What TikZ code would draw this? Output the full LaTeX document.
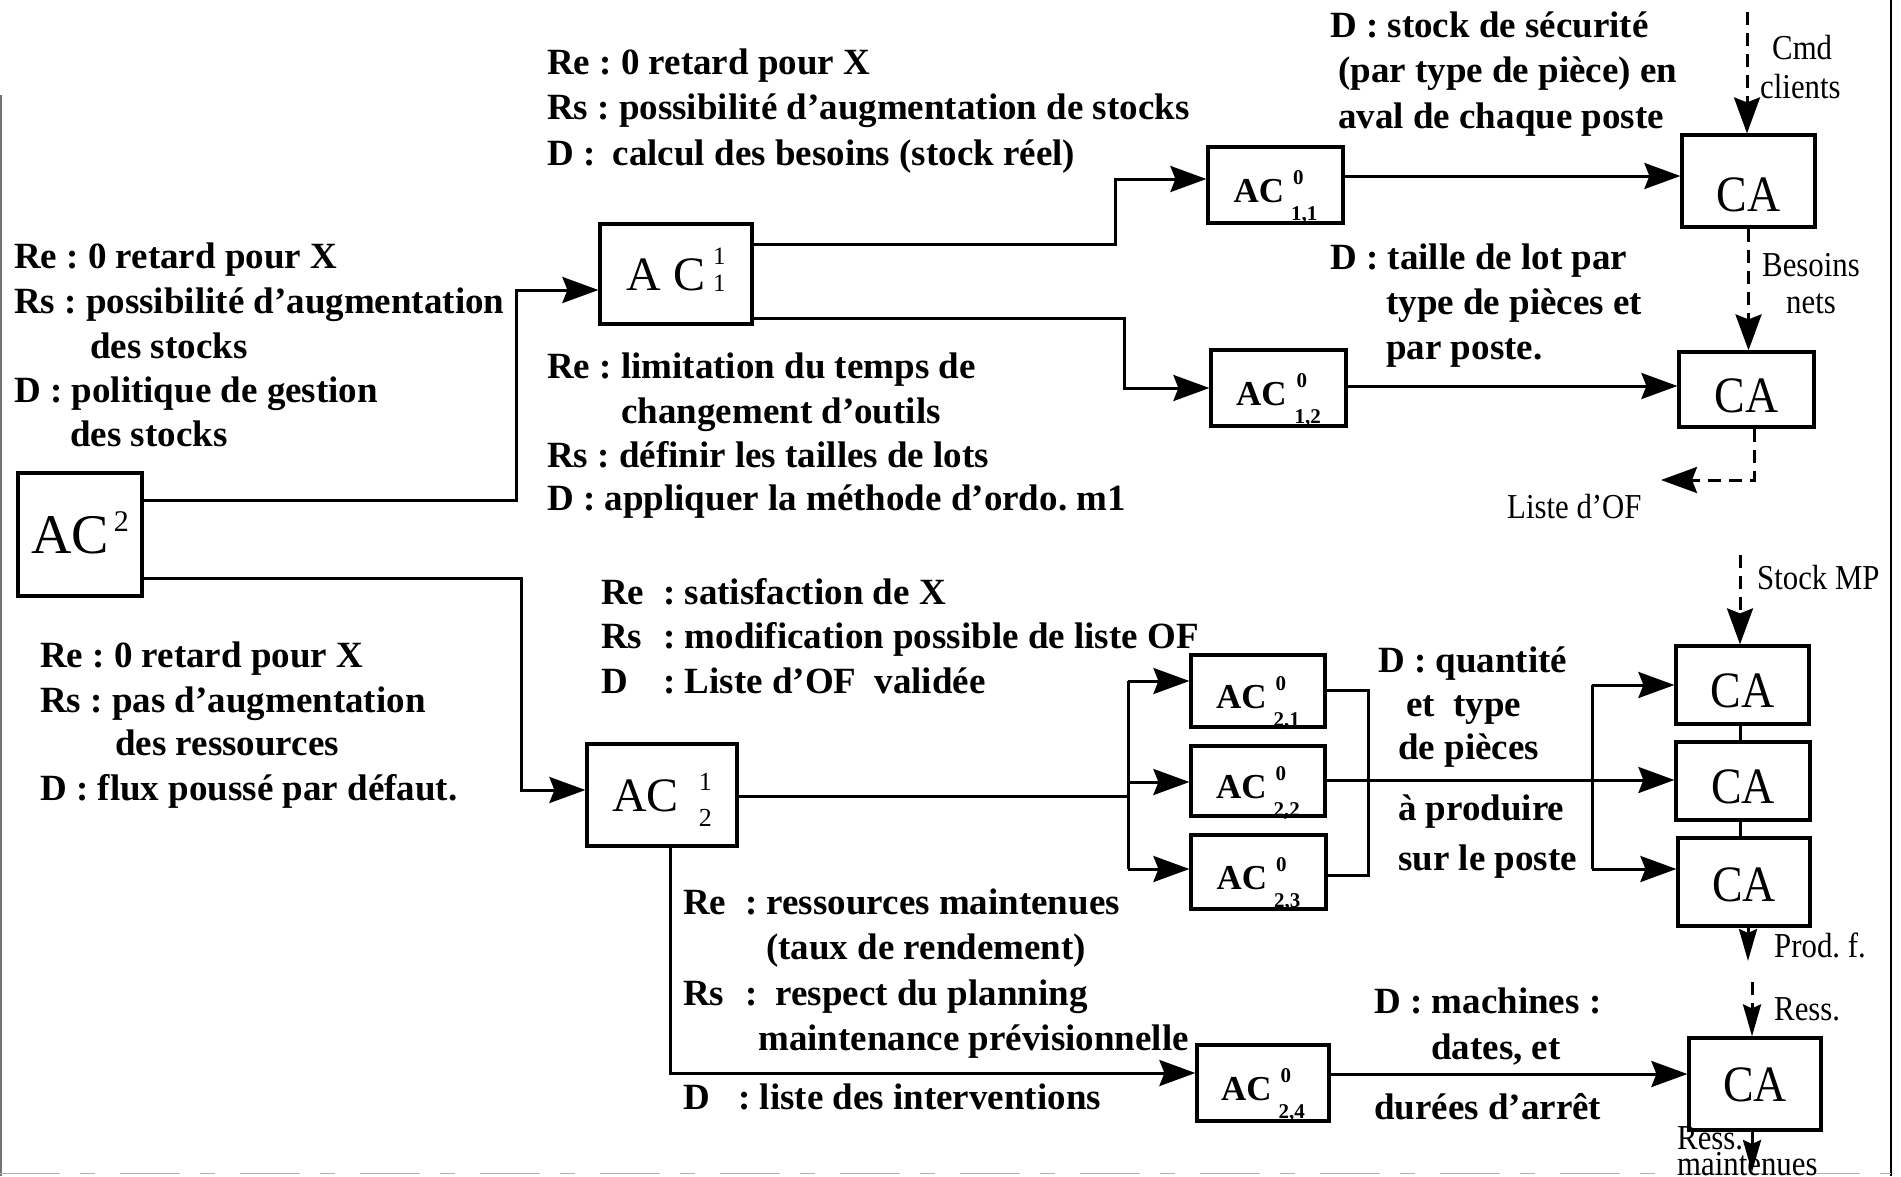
\documentclass[tikz,border=0pt]{standalone}
\usepackage{fontspec}
\setmainfont{Liberation Serif}
\usetikzlibrary{arrows.meta}
\frenchspacing
\newcommand\nar[1]{\scalebox{0.88}[1]{#1}}
\newcommand\aczero[1]{AC\hspace{7pt}\raisebox{2.3pt}{\fontsize{21}{36}\selectfont\begin{tabular}{@{}l@{}}\hspace{2pt}0\\#1\end{tabular}}}
\newcommand\castr{\scalebox{0.9}[1]{CA}}
\begin{document}
\begin{tikzpicture}[x=1pt,y=-1pt,
  box/.style={draw, line width=3.2pt, inner sep=0pt, anchor=center},
  bz/.style={box, font=\fontsize{35}{35}\selectfont\bfseries, text height=35pt, text depth=0pt},
  cab/.style={box, font=\fontsize{51}{51}\selectfont, text height=48pt, text depth=0pt},
  bt/.style={anchor=base west, inner sep=0pt, font=\fontsize{37}{44}\selectfont\bfseries},
  lb/.style={anchor=base west, inner sep=0pt, font=\fontsize{35}{35}\selectfont},
  con/.style={line width=3pt},
  arr/.style={con, -{Stealth[length=36pt,width=26pt,inset=5pt]}},
  sarr/.style={con, -{Stealth[length=32pt,width=18pt,inset=4pt]}},
  dsh/.style={arr, dash pattern=on 13pt off 8pt},
  sdsh/.style={sarr, dash pattern=on 13pt off 8pt},
]
\useasboundingbox (0,0) rectangle (1901,1176);
% frame
\draw[line width=2.5pt] (1891,0) -- (1891,1176);
\draw[line width=1.5pt, black!55] (1,95) -- (1,1176);
\draw[line width=0.8pt, black!30, dash pattern=on 60pt off 20pt on 15pt off 25pt] (0,1173) -- (1891,1173);

% boxes
\node[box, minimum width=124pt, minimum height=123pt, font=\fontsize{56}{56}\selectfont, text height=37pt, text depth=0pt] (AC2) at (80,534.5)
  {AC\raisebox{22pt}{\fontsize{30}{30}\selectfont\,2}};
\node[box, minimum width=152pt, minimum height=100pt, font=\fontsize{48}{48}\selectfont, text height=32pt, text depth=0pt] (AC11) at (676,274)
  {A C\hspace{8pt}\raisebox{10.7pt}{\fontsize{25}{27}\selectfont\begin{tabular}{@{}c@{}}1\\1\end{tabular}}};
\node[box, minimum width=150pt, minimum height=102pt, font=\fontsize{48}{48}\selectfont, text height=32pt, text depth=0pt] (AC12) at (662,795)
  {AC\hspace{20pt}\raisebox{3.6pt}{\fontsize{26}{36}\selectfont\begin{tabular}{@{}c@{}}1\\2\end{tabular}}};
\node[bz, minimum width=135pt, minimum height=76pt] (AC011) at (1275.5,185) {\aczero{1,1}};
\node[bz, minimum width=135pt, minimum height=76pt] (AC012) at (1278.5,388) {AC\hspace{8pt}\raisebox{2.3pt}{\fontsize{21}{36}\selectfont\begin{tabular}{@{}l@{}}\hspace{2pt}0\\1,2\end{tabular}}};
\node[bz, minimum width=134pt, minimum height=72pt] (AC021) at (1258,691) {\aczero{2,1}};
\node[bz, minimum width=134pt, minimum height=70pt] (AC022) at (1258,781) {\aczero{2,2}};
\node[bz, minimum width=135pt, minimum height=74pt] (AC023) at (1258.5,872) {\aczero{2,3}};
\node[bz, minimum width=132pt, minimum height=76pt] (AC024) at (1263,1083) {\aczero{2,4}};

\node[cab, minimum width=133pt, minimum height=92pt, text height=60pt] (CA1) at (1748.5,181) {\castr};
\node[cab, minimum width=135pt, minimum height=75pt, text height=46pt] (CA2) at (1746.5,389.5) {\castr};
\node[cab, minimum width=133pt, minimum height=78pt, text height=44pt] (CA21) at (1742.5,685) {\castr};
\node[cab, minimum width=134pt, minimum height=78pt, text height=44pt] (CA22) at (1743,781) {\castr};
\node[cab, minimum width=132pt, minimum height=88pt, text height=38pt] (CA23) at (1744,882) {\castr};
\node[cab, minimum width=132pt, minimum height=92pt, text height=34pt] (CAb) at (1755,1084) {\castr};

% connectors
\draw[arr] (AC2.east |- 0,500) -| (516,290) -- (AC11.west |- 0,290);
\draw[arr] (AC2.east |- 0,578) -| (521,790) -- (AC12.west |- 0,790);
\draw[arr] (AC11.east |- 0,244) -| (1115,179) -- (AC011.west |- 0,179);
\draw[arr] (AC11.east |- 0,318) -| (1124,388) -- (AC012.west |- 0,388);
\draw[arr] (AC011.east |- 0,176) -- (CA1.west |- 0,176);
\draw[arr] (AC012.east |- 0,386) -- (CA2.west |- 0,386);

\coordinate (cmd) at (1747,12);
\draw[dsh] (cmd) -- (cmd |- CA1.north);
\draw[dsh] (CA1.south) -- (CA1.south |- CA2.north);
\coordinate (lof) at (1661,480);
\draw[dsh] (CA2.south -| 1754,0) |- (lof);
\coordinate (smp) at (1740,555);
\draw[dsh] (smp) -- (smp |- CA21.north);

\coordinate (bA) at (1128,681);
\coordinate (bB) at (1128,869);
\draw[con] (AC12.east |- 0,796) -- (bA |- 0,796);
\draw[con] (bA) -- (bB);
\draw[arr] (bA) -- (AC021.west |- bA);
\draw[arr] (bA |- 0,782) -- (AC022.west |- 0,782);
\draw[arr] (bB) -- (AC023.west |- bB);

\draw[con] (AC021.east |- 0,690) -| (1368,875) -- (AC023.east |- 0,875);
\draw[arr] (AC022.east |- 0,780) -- (CA22.west |- 0,780);
\coordinate (cA) at (1592,685);
\coordinate (cB) at (1592,869);
\draw[con] (cA) -- (cB);
\draw[arr] (cA) -- (CA21.west |- cA);
\draw[arr] (cB) -- (CA23.west |- cB);
\draw[con] (CA21.south -| 1740,0) -- (CA22.north -| 1740,0);
\draw[con] (CA22.south -| 1740,0) -- (CA23.north -| 1740,0);

\coordinate (pf) at (1748,961);
\draw[sarr] (CA23.south -| pf) -- (pf);
\coordinate (rs) at (1752,982);
\draw[sdsh] (rs) -- (rs |- CAb.north);
\coordinate (rm) at (1752,1172);
\draw[sarr] (rm |- CAb.south) -- (rm);

\draw[arr] (AC12.south -| 670,0) |- (AC024.west |- 0,1073);
\draw[arr] (AC024.east |- 0,1074) -- (CAb.west |- 0,1074);

% bold texts
\node[bt] (a1) at (14,268) {Re : 0 retard pour X};
\node[bt] (a2) at (14,313) {Rs : possibilité d’augmentation};
\node[bt] (a3) at (90,358) {des stocks};
\node[bt] (a4) at (14,402) {D : politique de gestion};
\node[bt] (a5) at (70,446) {des stocks};

\node[bt] (b1) at (40,667) {Re : 0 retard pour X};
\node[bt] (b2) at (40,712) {Rs : pas d’augmentation};
\node[bt] (b3) at (115,755) {des ressources};
\node[bt] (b4) at (40,800) {D : flux poussé par défaut.};

\node[bt] (c1) at (547,74) {Re : 0 retard pour X};
\node[bt] (c2) at (547,119) {Rs : possibilité d’augmentation de stocks};
\node[bt] (c3) at (547,165) {D :\hspace{8pt} calcul des besoins (stock réel)};

\node[bt] (d1) at (547,378) {Re : limitation du temps de};
\node[bt] (d2) at (621,423) {changement d’outils};
\node[bt] (d3) at (547,467) {Rs : définir les tailles de lots};
\node[bt] (d4) at (547,510) {D : appliquer la méthode d’ordo. m1};

\node[bt] (e1) at (1330,37) {D : stock de sécurité};
\node[bt] (e2) at (1338,82) {(par type de pièce) en};
\node[bt] (e3) at (1338,128) {aval de chaque poste};
\node[bt] (e4) at (1330,269) {D : taille de lot par};
\node[bt] (e5) at (1386,314) {type de pièces et};
\node[bt] (e6) at (1386,359) {par poste.};

\node[bt] (f1) at (601,604) {\makebox[62pt][l]{Re}: satisfaction de X};
\node[bt] (f2) at (601,648) {\makebox[62pt][l]{Rs}: modification possible de liste OF};
\node[bt] (f3) at (601,693) {\makebox[62pt][l]{D}: Liste d’OF\hspace{9pt} validée};

\node[bt] (g1) at (683,914) {\makebox[62pt][l]{Re}: ressources maintenues};
\node[bt] (g2) at (766,959) {(taux de rendement)};
\node[bt] (g3) at (683,1005) {\makebox[62pt][l]{Rs}:\hspace{9pt} respect du planning};
\node[bt] (g4) at (758,1050) {maintenance prévisionnelle};
\node[bt] (g5) at (683,1109) {\makebox[55pt][l]{D}: liste des interventions};

\node[bt] (h1) at (1378,672) {D : quantité};
\node[bt] (h2) at (1406,716) {et\hspace{9pt} type};
\node[bt] (h3) at (1398,759) {de pièces};
\node[bt] (h4) at (1398,820) {à produire};
\node[bt] (h5) at (1398,870) {sur le poste};

\node[bt] (k1) at (1374,1013) {D : machines :};
\node[bt] (k2) at (1431,1059) {dates, et};
\node[bt] (k3) at (1374,1119) {durées d’arrêt};

% labels
\node[lb] (l1) at (1772,59) {\nar{Cmd}};
\node[lb] (l2) at (1760,98) {\nar{clients}};
\node[lb] (l3) at (1762,276) {\nar{Besoins}};
\node[lb] (l4) at (1786,313) {\nar{nets}};
\node[lb] (l5) at (1507,518) {\nar{Liste d’OF}};
\node[lb] (l6) at (1757,589) {\nar{Stock MP}};
\node[lb] (l7) at (1774,957) {\nar{Prod. f.}};
\node[lb] (l8) at (1774,1020) {\nar{Ress.}};
\node[lb] (l9) at (1677,1149) {\nar{Ress.}};
\node[lb] (l10) at (1677,1175) {\nar{maintenues}};
\end{tikzpicture}
\end{document}
